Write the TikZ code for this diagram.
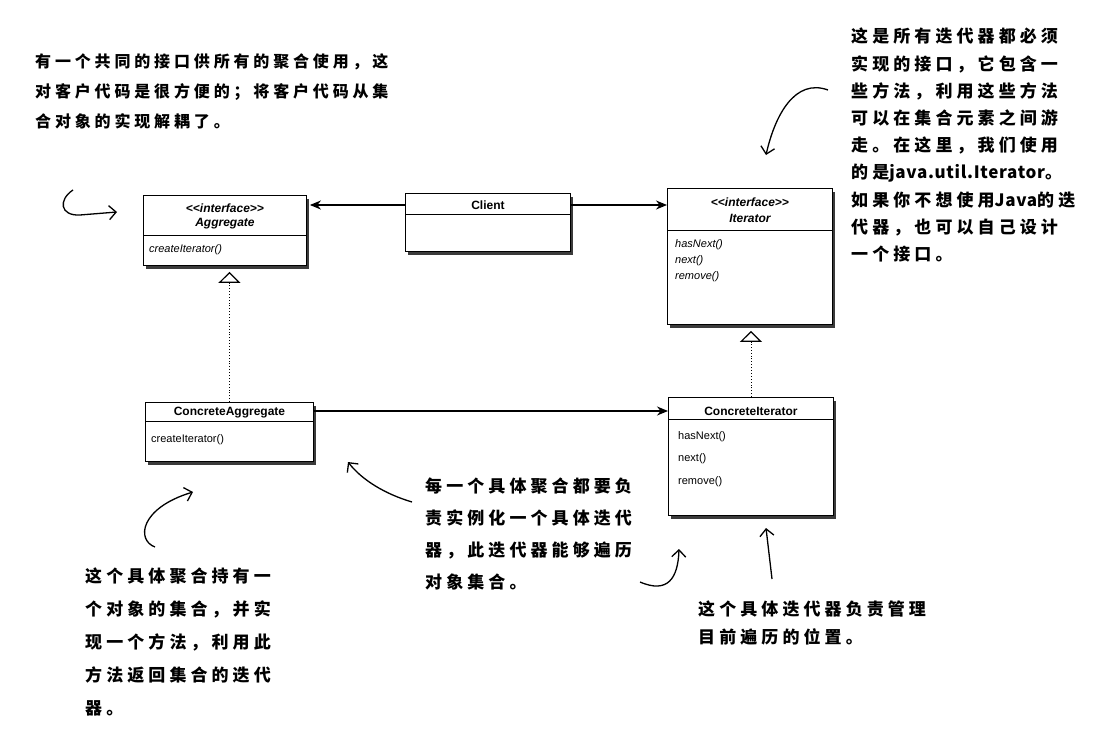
\documentclass[tikz,border=0pt]{standalone}
\usepackage{fontspec}
\setmainfont{Liberation Sans}
\newfontfamily\cjk[LetterSpace=24]{Noto Sans CJK SC}
\newcommand\latn[1]{{\addfontfeature{LetterSpace=4}#1}}
\usetikzlibrary{arrows.meta,calc,positioning,shadows}

\begin{document}
\begin{tikzpicture}[x=1pt,y=-1pt,>=Stealth,
    cls/.style={draw,line width=0.9pt,fill=white,anchor=north west,inner sep=0pt,
      drop shadow={shadow xshift=3pt,shadow yshift=-4pt,fill=black!85,opacity=.9}},
    ttl/.style={font=\fontsize{12}{14}\selectfont\bfseries,inner sep=0pt},
    mth/.style={font=\fontsize{11}{13}\selectfont,anchor=west,inner sep=0pt},
    sep/.style={line width=0.9pt},
    assoc/.style={line width=1.5pt,-{Stealth[length=11pt,width=9pt]}},
    real/.style={line width=0.9pt,dotted,-{Triangle[open,length=11pt,width=22pt,line width=1.2pt]}},
    note/.style={align=left,anchor=north west,inner sep=0pt},
    hand/.style={line width=1.3pt,-{Straight Barb[length=7pt,width=14pt]}}]
  \useasboundingbox (0,0) rectangle (1102,733);

  % the five classes
  \node[cls,minimum width=163pt,minimum height=70pt] (agg) at (143,195) {};
  \node[cls,minimum width=165pt,minimum height=58pt] (client) at (405,193) {};
  \node[cls,minimum width=165pt,minimum height=136pt] (iter) at (667,188) {};
  \node[cls,minimum width=168pt,minimum height=59pt] (cagg) at (145,402) {};
  \node[cls,minimum width=165pt,minimum height=118pt] (citer) at (668,397) {};

  \draw[sep] ($(agg.north west)+(0,40)$) -- ($(agg.north east)+(0,40)$);
  \draw[sep] ($(client.north west)+(0,21)$) -- ($(client.north east)+(0,21)$);
  \draw[sep] ($(iter.north west)+(0,42)$) -- ($(iter.north east)+(0,42)$);
  \draw[sep] ($(cagg.north west)+(0,19)$) -- ($(cagg.north east)+(0,19)$);
  \draw[sep] ($(citer.north west)+(0,22)$) -- ($(citer.north east)+(0,22)$);

  \node[ttl] (agg-st) at ($(agg.north)+(0,13)$) {\itshape <\kern0pt<interface>\kern0pt>};
  \node[ttl] (agg-nm) at ($(agg.north)+(0,29)$) {\itshape Aggregate};
  \node[mth] (agg-m1) at ($(agg.north west)+(6,55)$) {\itshape createIterator()};

  \node[ttl] (client-nm) at ($(client.north)+(0,12)$) {Client};

  \node[ttl] (iter-st) at ($(iter.north)+(0,14)$) {\itshape <\kern0pt<interface>\kern0pt>};
  \node[ttl] (iter-nm) at ($(iter.north)+(0,30)$) {\itshape Iterator};
  \node[mth] (iter-m1) at ($(iter.north west)+(8,57)$) {\itshape hasNext()};
  \node[mth] (iter-m2) at ($(iter.north west)+(8,73)$) {\itshape next()};
  \node[mth] (iter-m3) at ($(iter.north west)+(8,89)$) {\itshape remove()};

  \node[ttl] (cagg-nm) at ($(cagg.north)+(0,11)$) {ConcreteAggregate};
  \node[mth] (cagg-m1) at ($(cagg.north west)+(6,38)$) {createIterator()};

  \node[ttl] (citer-nm) at ($(citer.north)+(0,14)$) {ConcreteIterator};
  \node[mth] (citer-m1) at ($(citer.north west)+(10,40)$) {hasNext()};
  \node[mth] (citer-m2) at ($(citer.north west)+(10,62)$) {next()};
  \node[mth] (citer-m3) at ($(citer.north west)+(10,85)$) {remove()};

  % connectors
  \coordinate (cl) at ($(client.north west)+(0,12)$);
  \coordinate (cr) at ($(client.north east)+(0,12)$);
  \coordinate (ca) at ($(cagg.north east)+(0,9)$);
  \draw[assoc,shorten >=3pt] (cl) -- (cl -| agg.east);
  \draw[assoc] (cr) -- (cr -| iter.west);
  \draw[assoc] (ca) -- (ca -| citer.west);
  \draw[real,shorten >=6pt] (cagg.north) -- (cagg.north |- agg.south);
  \draw[real,shorten >=6pt] (citer.north) -- (citer.north |- iter.south);

  % handwritten notes
  \node[note,font=\cjk\bfseries\fontsize{16}{30}\selectfont] (n-common) at (35,53)
    {有一个共同的接口供所有的聚合使用，这\\对客户代码是很方便的；将客户代码从集\\合对象的实现解耦了。};
  \node[note,font=\cjk\bfseries\fontsize{17}{27.2}\selectfont] (n-iter) at (851,28)
    {这是所有迭代器都必须\\实现的接口，它包含一\\些方法，利用这些方法\\可以在集合元素之间游\\走。在这里，我们使用\\的是\latn{java.util.Iterator}。\\如果你不想使用\latn{Java}的迭\\代器，也可以自己设计\\一个接口。};
  \node[note,font=\cjk\bfseries\fontsize{17}{32}\selectfont] (n-create) at (425,478)
    {每一个具体聚合都要负\\责实例化一个具体迭代\\器，此迭代器能够遍历\\对象集合。};
  \node[note,font=\cjk\bfseries\fontsize{17}{32.8}\selectfont] (n-cagg) at (85,568)
    {这个具体聚合持有一\\个对象的集合，并实\\现一个方法，利用此\\方法返回集合的迭代\\器。};
  \node[note,font=\cjk\bfseries\fontsize{17}{28}\selectfont] (n-citer) at (698,601)
    {这个具体迭代器负责管理\\目前遍历的位置。};

  % hand arrows
  \coordinate (h1a) at (73,190);  \coordinate (h1b) at (117,212);
  \coordinate (h2a) at (828,90);  \coordinate (h2b) at (766,155);
  \coordinate (h3a) at (412,502); \coordinate (h3b) at (348,462);
  \coordinate (h4a) at (640,582); \coordinate (h4b) at (679,549);
  \coordinate (h5a) at (772,579); \coordinate (h5b) at (766,528);
  \coordinate (h6a) at (155,547); \coordinate (h6b) at (193,492);
  \draw[hand] (h1a) .. controls (58,200) and (60,216) .. (80,215) -- (h1b);
  \draw[hand] (h2a) .. controls (795,78) and (775,115) .. (h2b);
  \draw[hand] (h3a) .. controls (385,494) and (362,480) .. (h3b);
  \draw[hand] (h4a) .. controls (668,594) and (678,578) .. (h4b);
  \draw[hand] (h5a) -- (h5b);
  \draw[hand] (h6a) .. controls (136,540) and (140,508) .. (h6b);
\end{tikzpicture}
\end{document}
